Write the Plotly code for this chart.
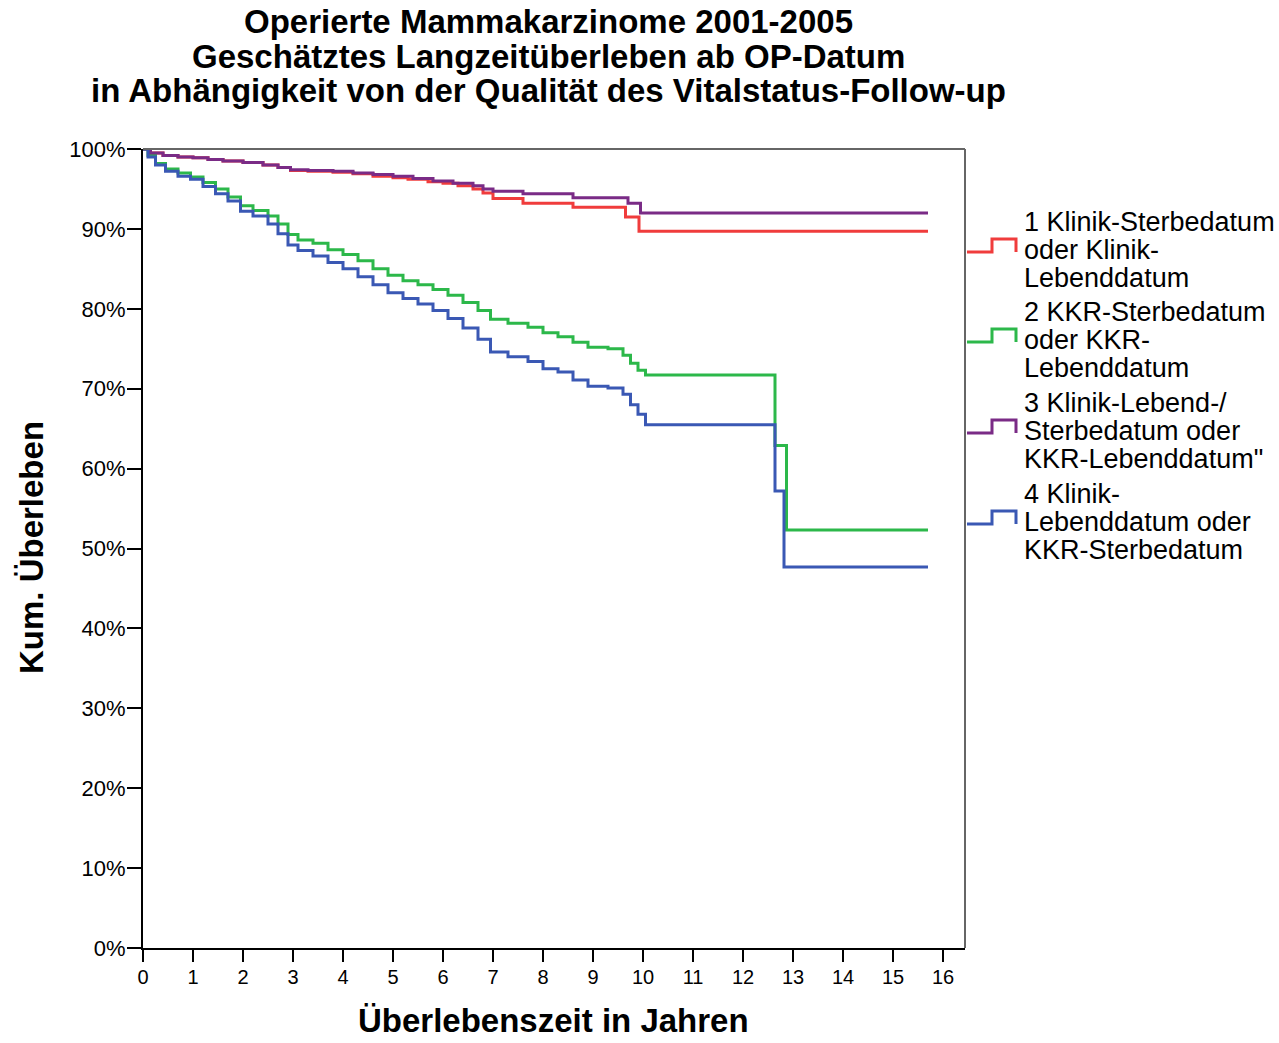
import plotly.graph_objects as go

# ---------------- data ----------------
years = list(range(0, 17))
pct_ticks = list(range(0, 101, 10))

t1 = [0, 0.15, 0.4, 0.7, 1.0, 1.3, 1.6, 2.0, 2.4, 2.7, 2.95, 3.3, 3.8, 4.2, 4.6, 5.0, 5.3, 5.7,
      6.0, 6.3, 6.6, 6.8, 7.0, 7.6, 8.6, 9.65, 9.92, 15.7]
s1 = [100, 99.5, 99.2, 99.0, 98.9, 98.7, 98.5, 98.3, 98.0, 97.7, 97.3, 97.2, 97.1, 96.9, 96.6, 96.4,
      96.2, 95.9, 95.7, 95.4, 95.0, 94.5, 93.8, 93.2, 92.7, 91.5, 89.7, 89.7]

t2 = [0, 0.1, 0.25, 0.45, 0.7, 0.95, 1.2, 1.45, 1.7, 1.95, 2.2, 2.5, 2.7, 2.9, 3.1, 3.4, 3.7, 4.0,
      4.3, 4.6, 4.9, 5.2, 5.5, 5.8, 6.1, 6.4, 6.7, 6.95, 7.3, 7.7, 8.0, 8.3, 8.6, 8.9, 9.3, 9.6,
      9.75, 9.9, 10.05, 12.64, 12.87, 15.7]
s2 = [100, 99.2, 98.2, 97.5, 97.0, 96.5, 95.8, 95.0, 94.0, 92.9, 92.3, 91.6, 90.6, 89.3, 88.6, 88.2,
      87.4, 86.8, 86.0, 85.0, 84.2, 83.5, 83.0, 82.4, 81.7, 80.8, 79.8, 78.7, 78.2, 77.7, 77.0, 76.5,
      75.8, 75.2, 75.0, 74.2, 73.2, 72.3, 71.7, 62.9, 52.3, 52.3]

t3 = [0, 0.15, 0.4, 0.7, 1.0, 1.3, 1.6, 2.0, 2.4, 2.7, 2.95, 3.3, 3.8, 4.2, 4.6, 5.0, 5.4, 5.8,
      6.2, 6.6, 6.8, 7.0, 7.6, 8.6, 9.7, 9.95, 15.7]
s3 = [100, 99.5, 99.2, 99.0, 98.9, 98.7, 98.5, 98.3, 98.0, 97.7, 97.4, 97.3, 97.2, 97.0, 96.8, 96.6,
      96.3, 96.0, 95.7, 95.4, 95.0, 94.7, 94.4, 93.9, 93.2, 92.0, 92.0]

t4 = [0, 0.1, 0.25, 0.45, 0.7, 0.95, 1.2, 1.45, 1.7, 1.95, 2.2, 2.5, 2.7, 2.9, 3.1, 3.4, 3.7, 4.0,
      4.3, 4.6, 4.9, 5.2, 5.5, 5.8, 6.1, 6.4, 6.7, 6.95, 7.3, 7.7, 8.0, 8.3, 8.6, 8.9, 9.3, 9.6,
      9.75, 9.9, 10.05, 12.64, 12.82, 15.7]
s4 = [100, 99.0, 98.0, 97.2, 96.6, 96.2, 95.3, 94.4, 93.5, 92.2, 91.6, 90.6, 89.4, 88.0, 87.3, 86.6,
      85.8, 85.0, 84.0, 83.0, 82.0, 81.3, 80.6, 79.8, 78.8, 77.6, 76.2, 74.6, 74.0, 73.4, 72.5, 72.1,
      71.1, 70.3, 70.1, 69.3, 68.0, 66.8, 65.5, 57.2, 47.7, 47.7]

series_names = [
    ["1 Klinik-Sterbedatum", "oder Klinik-", "Lebenddatum"],
    ["2 KKR-Sterbedatum", "oder KKR-", "Lebenddatum"],
    ["3 Klinik-Lebend-/", "Sterbedatum oder", "KKR-Lebenddatum\""],
    ["4 Klinik-", "Lebenddatum oder", "KKR-Sterbedatum"],
]
colors = ["#f03c3c", "#2cb84a", "#7a2b86", "#3a58b4"]

title_lines = ["Operierte Mammakarzinome 2001-2005",
               "Geschätztes Langzeitüberleben ab OP-Datum",
               "in Abhängigkeit von der Qualität des Vitalstatus-Follow-up"]

FONT = "Liberation Sans, Arial, sans-serif"
W, H = 1279, 1043
L, R, T, B = 143, 314, 149, 95
PW, PH = W - L - R, H - T - B


def px(xp):
    return (xp - L) / PW


def py(yp):
    return (H - B - yp) / PH


fig = go.Figure()
for t, s, c, nm in zip([t1, t2, t3, t4], [s1, s2, s3, s4], colors, series_names):
    fig.add_trace(go.Scatter(x=t, y=s, mode="lines", line=dict(color=c, width=3, shape="hv"),
                             name=" ".join(nm), showlegend=False, hoverinfo="x+y+name"))

annotations = []
shapes = []

# title
for i, line in enumerate(title_lines):
    annotations.append(dict(text="<b>%s</b>" % line, xref="paper", yref="paper",
                            x=px(548), y=py(22 + 34 * i), xanchor="center", yanchor="middle",
                            showarrow=False, font=dict(family=FONT, size=33, color="black")))

# axis titles
annotations.append(dict(text="<b>Überlebenszeit in Jahren</b>", xref="paper", yref="paper",
                        x=px(553), y=py(1021), xanchor="center", yanchor="middle", showarrow=False,
                        font=dict(family=FONT, size=33, color="black")))
annotations.append(dict(text="<b>Kum. Überleben</b>", xref="paper", yref="paper",
                        x=px(31), y=py(548), xanchor="center", yanchor="middle", showarrow=False,
                        textangle=-90, font=dict(family=FONT, size=33, color="black")))

# legend
legend_top = [222, 312, 403, 494]
for nm, c, ytop in zip(series_names, colors, legend_top):
    for j, ln in enumerate(nm):
        annotations.append(dict(text=ln, xref="paper", yref="paper", x=px(1022), y=py(ytop + 28 * j),
                                xanchor="left", yanchor="middle", showarrow=False,
                                font=dict(family=FONT, size=27, color="black")))
    lo = ytop + 30
    hi = ytop + 17
    path = "M %f,%f L %f,%f L %f,%f L %f,%f L %f,%f" % (
        px(967), py(lo), px(992), py(lo), px(992), py(hi), px(1016), py(hi), px(1016), py(lo))
    shapes.append(dict(type="path", path=path, xref="paper", yref="paper",
                       line=dict(color=c, width=3)))

# frame top/right (grey)
shapes.append(dict(type="line", xref="paper", yref="paper", x0=0, x1=1, y0=1, y1=1,
                   line=dict(color="#666666", width=2)))
shapes.append(dict(type="line", xref="paper", yref="paper", x0=1, x1=1, y0=0, y1=1,
                   line=dict(color="#666666", width=2)))

fig.update_layout(
    width=W, height=H,
    margin=dict(l=L, r=R, t=T, b=B, pad=0),
    paper_bgcolor="white", plot_bgcolor="white",
    font=dict(family=FONT, color="black"),
    annotations=annotations, shapes=shapes,
    showlegend=False,
    xaxis=dict(range=[0, PW / 50.0], tickvals=years, ticktext=[str(v) for v in years],
               ticks="outside", ticklen=12, tickwidth=2, tickcolor="black",
               showline=True, linecolor="black", linewidth=2, showgrid=False, zeroline=False,
               tickfont=dict(family=FONT, size=20, color="black"), fixedrange=True,
               ticklabelstandoff=-2),
    yaxis=dict(range=[0, 100], tickvals=pct_ticks, ticktext=["%d%%" % v for v in pct_ticks],
               ticks="outside", ticklen=14, tickwidth=2, tickcolor="black",
               showline=True, linecolor="black", linewidth=2, showgrid=False, zeroline=False,
               tickfont=dict(family=FONT, size=22, color="black"), fixedrange=True,
               ticklabelstandoff=-3),
)

fig.write_html("out.html", config={"displayModeBar": False},
               post_script="document.body.style.margin='0px';document.body.style.overflow='hidden';")
